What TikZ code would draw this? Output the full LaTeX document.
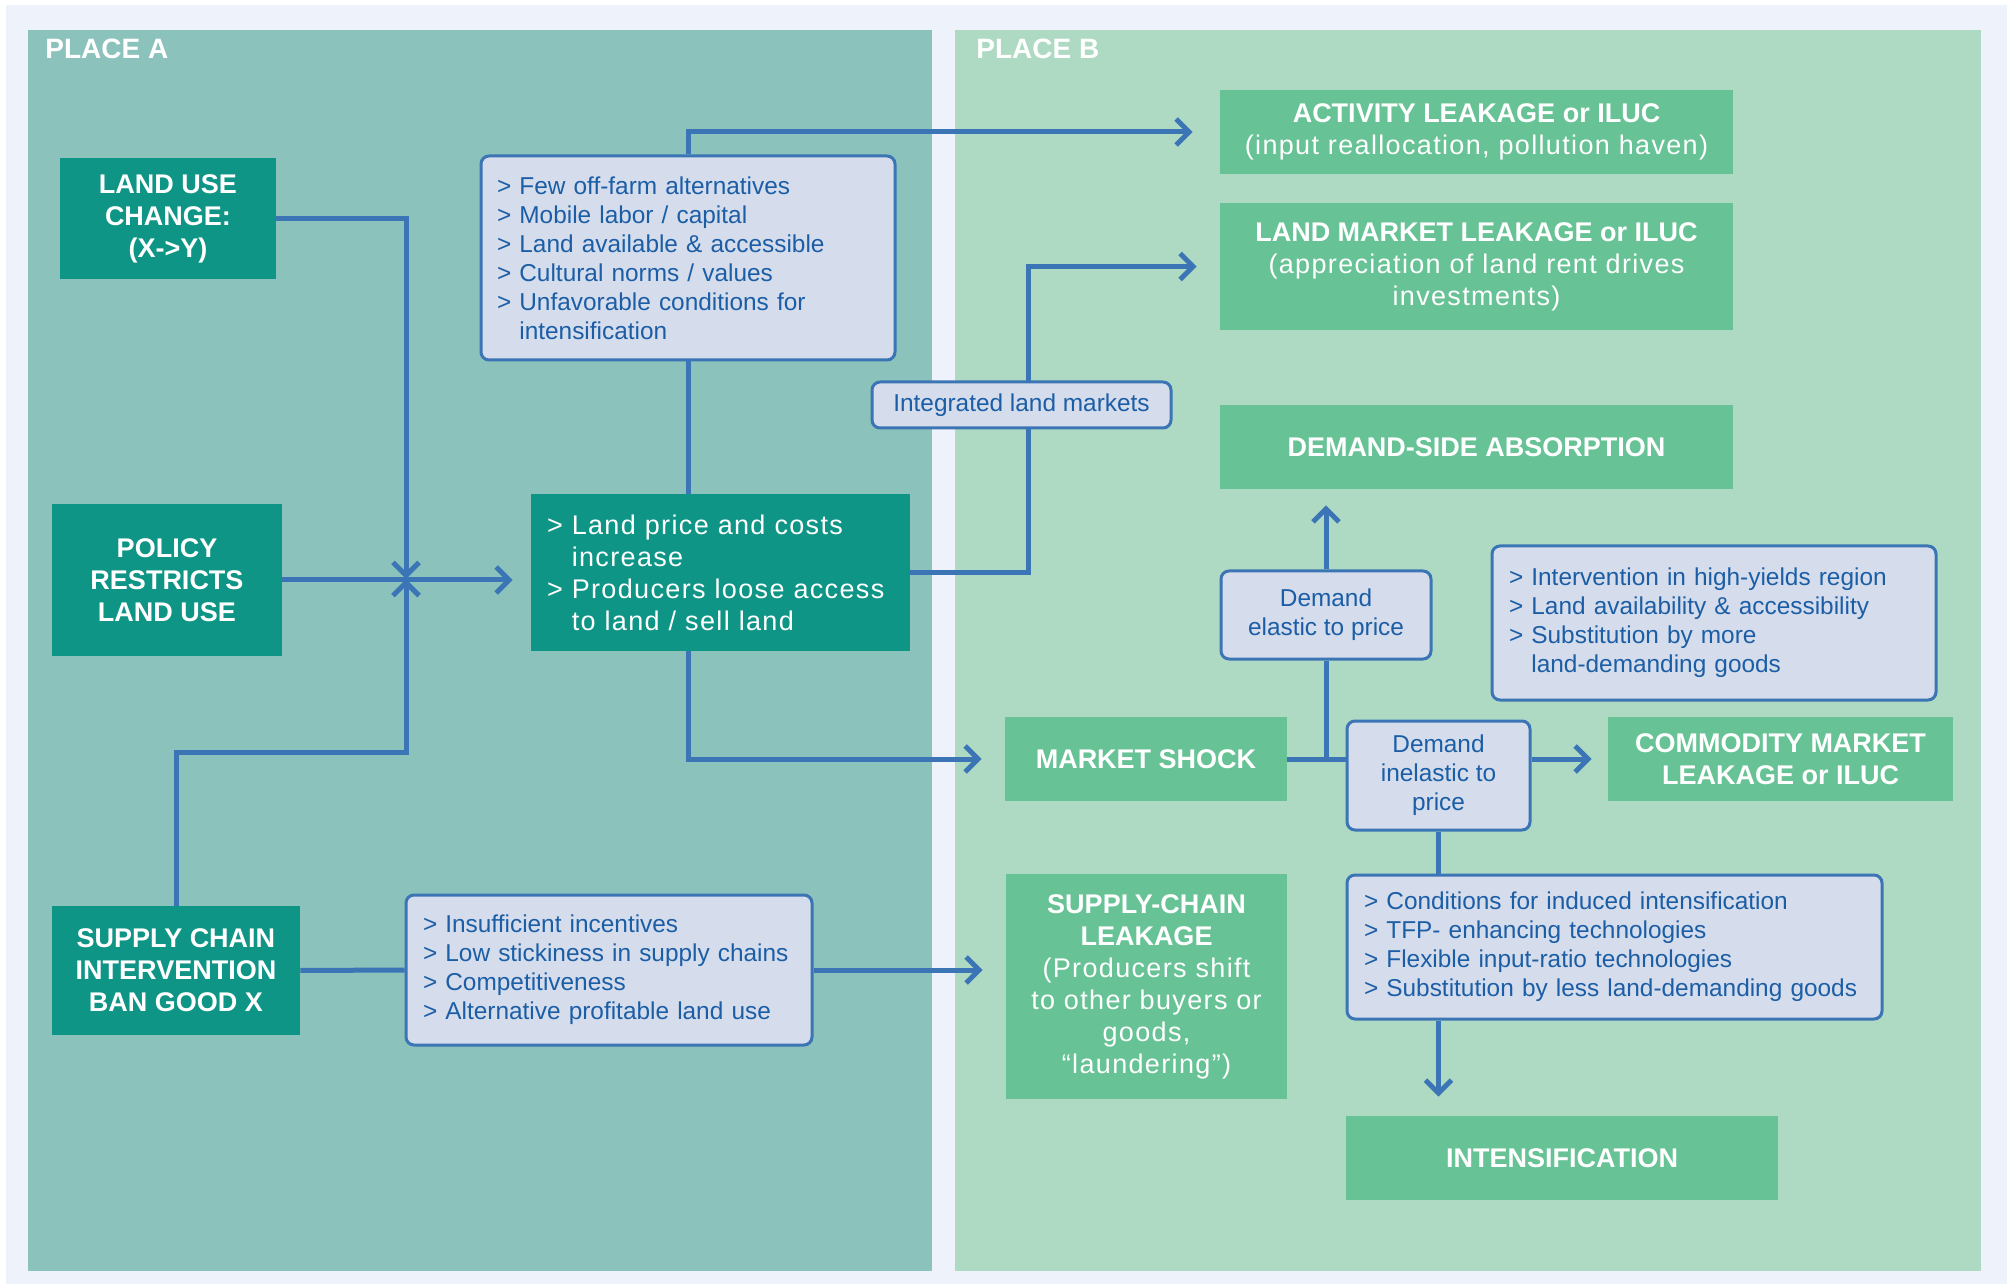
\documentclass[tikz,border=0pt]{standalone}
\usepackage{fontspec}
\setmainfont{Liberation Sans}
\newfontfamily\trk[LetterSpace=5]{Liberation Sans}
\usetikzlibrary{arrows.meta}

\definecolor{frame}{HTML}{EEF2FA}
\definecolor{placea}{HTML}{8BC3BC}
\definecolor{placeb}{HTML}{AEDAC3}
\definecolor{boxteal}{HTML}{0E9586}
\definecolor{boxgreen}{HTML}{67C396}
\definecolor{boxlight}{HTML}{D5DCEB}
\definecolor{wire}{HTML}{3C75B5}
\definecolor{ink}{HTML}{1B5EA6}

\newcommand\gap{\phantom{> }}
\newcommand\sub[1]{{\trk\mdseries #1}}

\pgfdeclarelayer{back}
\pgfdeclarelayer{wires}
\pgfsetlayers{back,wires,main}

\begin{document}
\begin{tikzpicture}[x=0.5pt,y=-0.5pt,
	tealbox/.style={fill=boxteal, text=white, align=center, inner sep=0pt, font=\bfseries\fontsize{13.5}{16}\selectfont},
	greenbox/.style={fill=boxgreen, text=white, align=center, inner sep=0pt, font=\bfseries\fontsize{13.5}{16}\selectfont},
	listbox/.style={fill=boxlight, draw=wire, line width=1.5pt, rounded corners=4pt, text=ink, align=left, inner xsep=8pt, inner ysep=0pt, font=\fontsize{12.2}{14.5}\selectfont},
	link/.style={draw=wire, line width=2.5pt},
	flow/.style={link, -{Straight Barb[length=6.5pt,width=13pt]}, shorten >=11.5pt},
	place/.style={anchor=north west, inner sep=0pt, text=white, font=\bfseries\fontsize{14}{16}\selectfont}]

	\useasboundingbox (0,0) rectangle (2013,1288);

	\begin{pgfonlayer}{back}
		\fill[white] (0,0) rectangle (2013,1288);
		\fill[frame] (6,5) rectangle (2007,1284);
		\fill[placea] (28,30) rectangle (932,1271);
		\fill[placeb] (955,30) rectangle (1981,1271);
	\end{pgfonlayer}

	\node[place] (pa) at (45,39) {PLACE A};
	\node[place] (pb) at (976,39) {PLACE B};

	% place A
	\node[tealbox, minimum width=108pt, minimum height=60.5pt] (luc) at (168,218.5) {LAND USE\\CHANGE:\\(X->Y)};
	\node[tealbox, minimum width=115pt, minimum height=76pt] (policy) at (167,580) {POLICY\\RESTRICTS\\LAND USE};
	\node[tealbox, minimum width=124pt, minimum height=64.5pt] (supply) at (176,970.5) {SUPPLY CHAIN\\INTERVENTION\\BAN GOOD X};
	\node[listbox, text width=191pt, minimum height=102pt] (barrA) at (688,258) {> Few off-farm alternatives\\> Mobile labor / capital\\> Land available \& accessible\\> Cultural norms / values\\> Unfavorable conditions for\\\gap intensification};
	\node[tealbox, align=left, text width=173.5pt, inner xsep=8pt, minimum height=78.5pt, font=\trk\fontsize{13.5}{16}\selectfont] (price) at (720.5,572.5) {> Land price and costs\\\gap increase\\> Producers loose access\\\gap to land / sell land};
	\node[listbox, text width=186pt, inner xsep=8.5pt, minimum height=75pt] (barrSC) at (609,970) {> Insufficient incentives\\> Low stickiness in supply chains\\> Competitiveness\\> Alternative profitable land use};
	\node[listbox, align=center, minimum width=149.5pt, minimum height=23pt] (integ) at (1021.5,405) {Integrated land markets};

	% place B
	\node[greenbox, minimum width=256.5pt, minimum height=42pt] (activity) at (1476.5,132) {ACTIVITY LEAKAGE or ILUC\\\sub{(input reallocation, pollution haven)}};
	\node[greenbox, minimum width=256.5pt, minimum height=63.5pt] (landmkt) at (1476.5,266.5) {LAND MARKET LEAKAGE or ILUC\\\sub{(appreciation of land rent drives}\\\sub{investments)}};
	\node[greenbox, minimum width=256.5pt, minimum height=42pt] (absorb) at (1476.5,447) {DEMAND-SIDE ABSORPTION};
	\node[listbox, align=center, minimum width=105pt, minimum height=44pt] (elastic) at (1326,615) {Demand\\elastic to price};
	\node[listbox, text width=205pt, inner xsep=8.5pt, minimum height=77pt] (interv) at (1714,623) {> Intervention in high-yields region\\> Land availability \& accessibility\\> Substitution by more\\\gap land-demanding goods};
	\node[greenbox, minimum width=141pt, minimum height=42pt] (shock) at (1146,759) {MARKET SHOCK};
	\node[listbox, align=center, minimum width=91.5pt, minimum height=54.5pt] (inelastic) at (1438.5,775.5) {Demand\\inelastic to\\price};
	\node[greenbox, minimum width=172.5pt, minimum height=42pt] (commodity) at (1780.5,759) {COMMODITY MARKET\\LEAKAGE or ILUC};
	\node[listbox, text width=250.5pt, inner xsep=8.5pt, minimum height=72pt] (cond) at (1614.5,947) {> Conditions for induced intensification\\> TFP- enhancing technologies\\> Flexible input-ratio technologies\\> Substitution by less land-demanding goods};
	\node[greenbox, minimum width=216pt, minimum height=42pt] (intens) at (1562,1158) {INTENSIFICATION};
	\node[greenbox, minimum width=140.5pt, minimum height=112.5pt] (scleak) at (1146.5,986.5) {SUPPLY-CHAIN\\LEAKAGE\\\sub{(Producers shift}\\\sub{to other buyers or}\\\sub{goods,}\\\sub{“laundering”)}};

	\begin{pgfonlayer}{wires}
		\coordinate (hub) at (406,579);
		\coordinate (scturn) at (406,752);
		\coordinate (riser) at (1028,405);
		\draw[flow, shorten >=0pt] (luc.east) -| (hub);
		\draw[flow, shorten >=0pt] (supply.north) |- (scturn) to (hub);
		\draw[flow, shorten >=9pt] (policy.east) to (policy.east -| price.west);
		\draw[flow, shorten >=13.5pt] (barrA.north) |- (activity.west);
		\draw[link] (barrA.south) to (barrA.south |- price.north);
		\draw[flow] (price.south -| barrA.south) |- (shock.west);
		\draw[flow] (price.east) -| (riser) |- (landmkt.west);
		\draw[flow, shorten >=8pt] (elastic.north) to (elastic.north |- absorb.south);
		\draw[link] (elastic.south) to (elastic.south |- shock.east);
		\draw[link] (shock.east) to (shock.east -| inelastic.west);
		\draw[flow, shorten >=8pt] (inelastic.east |- commodity.west) to (commodity.west);
		\draw[link] (inelastic.south) to (inelastic.south |- cond.north);
		\draw[flow, shorten >=9.5pt] (cond.south -| inelastic.south) to (inelastic.south |- intens.north);
		\draw[link] (supply.east) to (barrSC.west);
		\draw[flow] (barrSC.east) to (barrSC.east -| scleak.west);
	\end{pgfonlayer}
\end{tikzpicture}
\end{document}
